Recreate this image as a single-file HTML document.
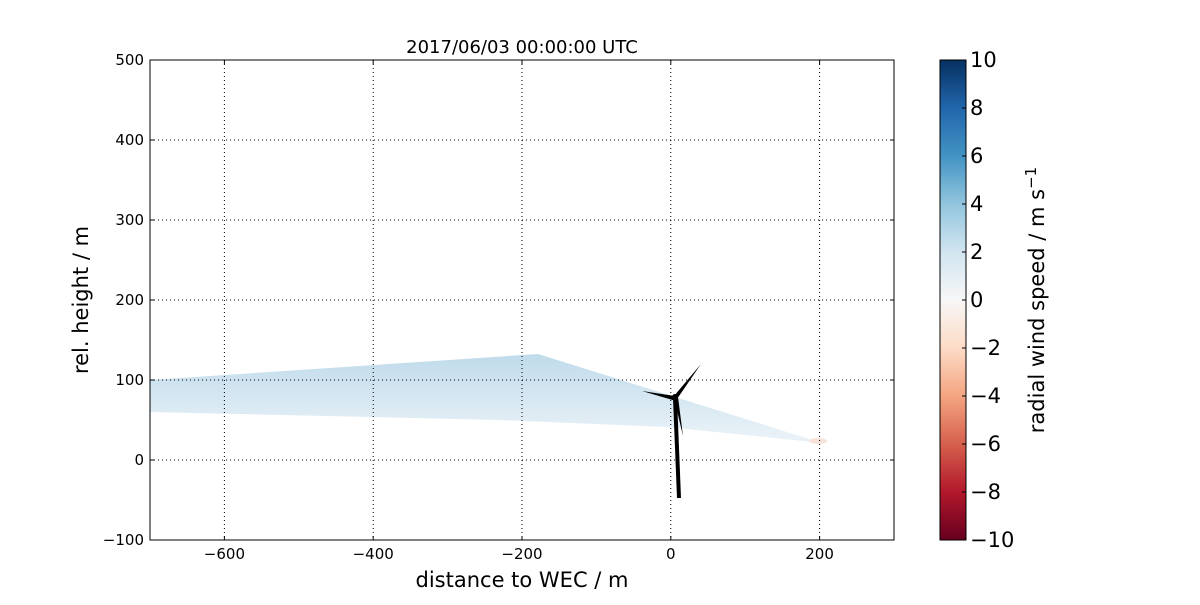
<!DOCTYPE html>
<html><head><meta charset="utf-8"><style>
body{margin:0;background:#fff;}
svg text{font-family:"DejaVu Sans","Liberation Sans",sans-serif;}
</style></head><body>
<svg width="1200" height="600" xmlns="http://www.w3.org/2000/svg">
<defs>
<linearGradient id="cb" x1="0" y1="1" x2="0" y2="0">
<stop offset="0" stop-color="#67001f"/>
<stop offset="0.1" stop-color="#b2182b"/>
<stop offset="0.2" stop-color="#d6604d"/>
<stop offset="0.3" stop-color="#f4a582"/>
<stop offset="0.4" stop-color="#fddbc7"/>
<stop offset="0.5" stop-color="#f7f7f7"/>
<stop offset="0.6" stop-color="#d1e5f0"/>
<stop offset="0.7" stop-color="#92c5de"/>
<stop offset="0.8" stop-color="#4393c3"/>
<stop offset="0.9" stop-color="#2166ac"/>
<stop offset="1" stop-color="#053061"/>
</linearGradient>
<linearGradient id="wg2" gradientUnits="userSpaceOnUse" x1="0" y1="355" x2="0" y2="435">
<stop offset="0" stop-color="#c0dbeb"/>
<stop offset="1" stop-color="#e8f1f7"/>
</linearGradient>
</defs>
<rect width="1200" height="600" fill="#fff"/>
<polygon points="150,380 538,354 822,443 667,427 500,420 150,412" fill="url(#wg2)"/>
<ellipse cx="818" cy="441" rx="9" ry="3" fill="#f6e2d8"/>
<g stroke="#000" stroke-width="1" stroke-dasharray="1,3">
<line x1="224.4" y1="60" x2="224.4" y2="540"/>
<line x1="373.2" y1="60" x2="373.2" y2="540"/>
<line x1="522" y1="60" x2="522" y2="540"/>
<line x1="670.8" y1="60" x2="670.8" y2="540"/>
<line x1="819.6" y1="60" x2="819.6" y2="540"/>
<line x1="150" y1="140" x2="894" y2="140"/>
<line x1="150" y1="220" x2="894" y2="220"/>
<line x1="150" y1="300" x2="894" y2="300"/>
<line x1="150" y1="380" x2="894" y2="380"/>
<line x1="150" y1="460" x2="894" y2="460"/>
</g>
<polygon points="673,398 677,398 681,498 677,498" fill="#000"/>
<polygon points="675,396 642,391 676,401" fill="#000"/>
<polygon points="674,396 701,364 677,399" fill="#000"/>
<polygon points="674,398 678,397 683,436" fill="#000"/>
<circle cx="675" cy="397" r="3" fill="#000"/>
<rect x="150" y="60" width="744" height="480" fill="none" stroke="#000" stroke-width="1"/>
<g stroke="#000">
<line x1="224.4" y1="540" x2="224.4" y2="536"/><line x1="373.2" y1="540" x2="373.2" y2="536"/><line x1="522" y1="540" x2="522" y2="536"/><line x1="670.8" y1="540" x2="670.8" y2="536"/><line x1="819.6" y1="540" x2="819.6" y2="536"/>
<line x1="224.4" y1="60" x2="224.4" y2="64"/><line x1="373.2" y1="60" x2="373.2" y2="64"/><line x1="522" y1="60" x2="522" y2="64"/><line x1="670.8" y1="60" x2="670.8" y2="64"/><line x1="819.6" y1="60" x2="819.6" y2="64"/>
<line x1="150" y1="140" x2="154" y2="140"/><line x1="150" y1="220" x2="154" y2="220"/><line x1="150" y1="300" x2="154" y2="300"/><line x1="150" y1="380" x2="154" y2="380"/><line x1="150" y1="460" x2="154" y2="460"/>
<line x1="894" y1="140" x2="890" y2="140"/><line x1="894" y1="220" x2="890" y2="220"/><line x1="894" y1="300" x2="890" y2="300"/><line x1="894" y1="380" x2="890" y2="380"/><line x1="894" y1="460" x2="890" y2="460"/>
</g>
<g font-size="15" text-anchor="middle">
<text x="224.4" y="559">−600</text><text x="373.2" y="559">−400</text><text x="522" y="559">−200</text><text x="670.8" y="559">0</text><text x="819.6" y="559">200</text>
</g>
<g font-size="15" text-anchor="end">
<text x="144" y="65">500</text><text x="144" y="145">400</text><text x="144" y="225">300</text><text x="144" y="305">200</text><text x="144" y="385">100</text><text x="144" y="465">0</text><text x="144" y="545">−100</text>
</g>
<text x="522" y="53" font-size="18" text-anchor="middle">2017/06/03 00:00:00 UTC</text>
<text x="522" y="587" font-size="21" text-anchor="middle">distance to WEC / m</text>
<text transform="translate(88,300) rotate(-90)" font-size="21" text-anchor="middle">rel. height / m</text>
<rect x="940" y="60" width="26" height="480" fill="url(#cb)" stroke="#000"/>
<g stroke="#000">
<line x1="962" y1="108" x2="966" y2="108"/><line x1="962" y1="156" x2="966" y2="156"/><line x1="962" y1="204" x2="966" y2="204"/><line x1="962" y1="252" x2="966" y2="252"/><line x1="962" y1="300" x2="966" y2="300"/><line x1="962" y1="348" x2="966" y2="348"/><line x1="962" y1="396" x2="966" y2="396"/><line x1="962" y1="444" x2="966" y2="444"/><line x1="962" y1="492" x2="966" y2="492"/>
</g>
<g font-size="21">
<text x="970" y="67">10</text><text x="970" y="115">8</text><text x="970" y="163">6</text><text x="970" y="211">4</text><text x="970" y="259">2</text><text x="970" y="307">0</text><text x="970" y="355">−2</text><text x="970" y="403">−4</text><text x="970" y="451">−6</text><text x="970" y="499">−8</text><text x="970" y="547">−10</text>
</g>
<text transform="translate(1044,300) rotate(-90)" font-size="21" text-anchor="middle">radial wind speed / m s<tspan dy="-8" font-size="15">−1</tspan></text>
</svg>
</body></html>
